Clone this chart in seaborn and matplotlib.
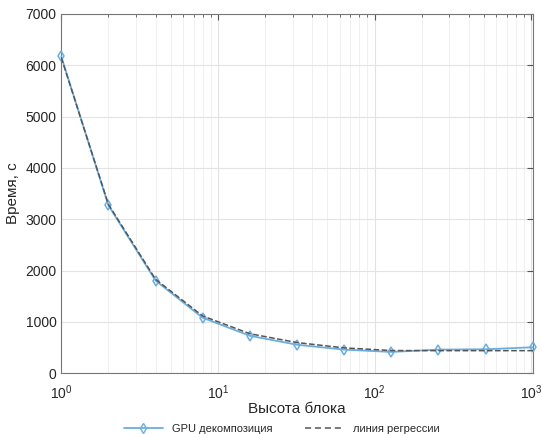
import numpy as np
import pandas as pd
import seaborn as sns
import matplotlib
matplotlib.use('Agg')
import matplotlib.pyplot as plt
from matplotlib.lines import Line2D

block_height = [1, 2, 4, 8, 16, 32, 64, 128, 256, 512, 1024]
gpu_time = [6170, 3270, 1805, 1080, 730, 555, 460, 415, 460, 467, 506]
regr_time = [6150, 3290, 1830, 1115, 770, 597, 494, 442, 440, 440, 440]

sns.set_style('white')
plt.rcParams['font.family'] = ['Liberation Sans', 'DejaVu Sans']
plt.rcParams['mathtext.fontset'] = 'custom'
plt.rcParams['mathtext.rm'] = 'Liberation Sans'

df = pd.DataFrame({'h': block_height, 'gpu': gpu_time, 'regr': regr_time})

line_col = '#6aaee0'
fig, ax = plt.subplots(figsize=(5.42, 4.34), dpi=100)
fig.subplots_adjust(left=0.113, right=0.983, top=0.968, bottom=0.14)

sns.lineplot(data=df, x='h', y='gpu', ax=ax, color=line_col, linewidth=1.3,
             marker='d', markersize=5, markerfacecolor='none',
             markeredgecolor=line_col, markeredgewidth=1.1, clip_on=False, zorder=3)
sns.lineplot(data=df, x='h', y='regr', ax=ax, color='#555555', linewidth=1.1,
             linestyle='--', dashes=(4, 2.5), zorder=4)

ax.set_xscale('log')
ax.set_xlim(1, 1024)
ax.set_ylim(0, 7000)
ax.set_yticks(range(0, 7001, 1000))
ax.set_xticks([1, 10, 100, 1000])
ax.set_xticklabels(['$10^0$', '$10^1$', '$10^2$', '$10^3$'])

ax.grid(True, which='major', color='#e3e3e3', linewidth=0.8)
ax.grid(True, which='minor', axis='x', color='#eeeeee', linewidth=0.6)
ax.tick_params(which='both', direction='in', top=True, right=True,
               colors='#555555', labelcolor='#262626', labelsize=10)
ax.tick_params(which='major', length=4)
ax.tick_params(which='minor', length=2)
ax.tick_params(axis='x', pad=7)
for s in ax.spines.values():
    s.set_color('#777777')
    s.set_linewidth(0.8)

ax.set_xlabel('Высота блока', fontsize=11, color='#262626', labelpad=0)
ax.set_ylabel('Время, с', fontsize=11, color='#262626', labelpad=4)

handles = [Line2D([], [], color=line_col, linewidth=1.3, marker='d', markersize=5,
                  markerfacecolor='none', markeredgecolor=line_col),
           Line2D([], [], color='#555555', linewidth=1.1, linestyle='--', dashes=(4, 2.5))]
fig.legend(handles, ['GPU декомпозиция', 'линия регрессии'], loc='lower center',
           ncol=2, frameon=False, fontsize=8, bbox_to_anchor=(0.52, -0.022),
           columnspacing=3, handlelength=3.5)

fig.savefig('out.png', dpi=100)
